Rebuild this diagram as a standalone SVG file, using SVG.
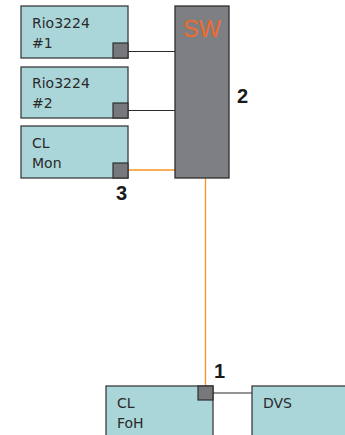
<svg xmlns="http://www.w3.org/2000/svg" width="345" height="435" viewBox="0 0 345 435">
<style>
.box{fill:#aad6d9;stroke:#3c3c3c;stroke-width:1.3}
.port{fill:#77787b;stroke:#2e2e2e;stroke-width:1.2}
.t{font-family:"DejaVu Sans",sans-serif;font-size:14px;fill:#2a2a2a}
.num{font-family:"Liberation Sans",Arial,sans-serif;font-size:20px;font-weight:bold;fill:#1a1a1a}
.blk{stroke:#2a2a2a;stroke-width:1.2;fill:none}
.org{stroke:#f7941d;stroke-width:1.3;fill:none}
</style>
<rect width="345" height="435" fill="#ffffff"/>
<g id="connectors">
<line class="blk" x1="128" y1="51.5" x2="175" y2="51.5"/>
<line class="blk" x1="128" y1="110.5" x2="175" y2="110.5"/>
<line class="org" x1="128" y1="170" x2="175" y2="170"/>
<line class="org" x1="205.5" y1="178" x2="205.5" y2="386"/>
<line class="blk" x1="213" y1="393" x2="252" y2="393"/>
</g>
<g id="rio1">
<rect class="box" x="21" y="6" width="107" height="52"/>
<rect class="port" x="113" y="43" width="15" height="15"/>
<text class="t" x="32" y="28">Rio3224</text>
<text class="t" x="32" y="48">#1</text>
</g>
<g id="rio2">
<rect class="box" x="21" y="67" width="107" height="51"/>
<rect class="port" x="113" y="103" width="15" height="15"/>
<text class="t" x="32" y="88">Rio3224</text>
<text class="t" x="32" y="108">#2</text>
</g>
<g id="clmon">
<rect class="box" x="21" y="126" width="107" height="52"/>
<rect class="port" x="113" y="163" width="15" height="15"/>
<text class="t" x="32" y="148">CL</text>
<text class="t" x="32" y="168">Mon</text>
</g>
<g id="sw">
<rect x="175" y="6" width="54" height="172" fill="#7e7f82" stroke="#2e2e2e" stroke-width="1.3"/>
<text x="183" y="37" font-family="'Liberation Sans',Arial,sans-serif" font-size="23.5" fill="#f26a2c">SW</text>
</g>
<g id="clfoh">
<rect class="box" x="106" y="386" width="107" height="60"/>
<rect class="port" x="198" y="386" width="15" height="14"/>
<text class="t" x="117" y="408">CL</text>
<text class="t" x="117" y="428">FoH</text>
</g>
<g id="dvs">
<rect class="box" x="252" y="386" width="100" height="60"/>
<text class="t" x="263" y="408">DVS</text>
</g>
<g id="labels">
<text class="num" x="237" y="103">2</text>
<text class="num" x="116" y="200">3</text>
<text class="num" x="214" y="378">1</text>
</g>
</svg>
